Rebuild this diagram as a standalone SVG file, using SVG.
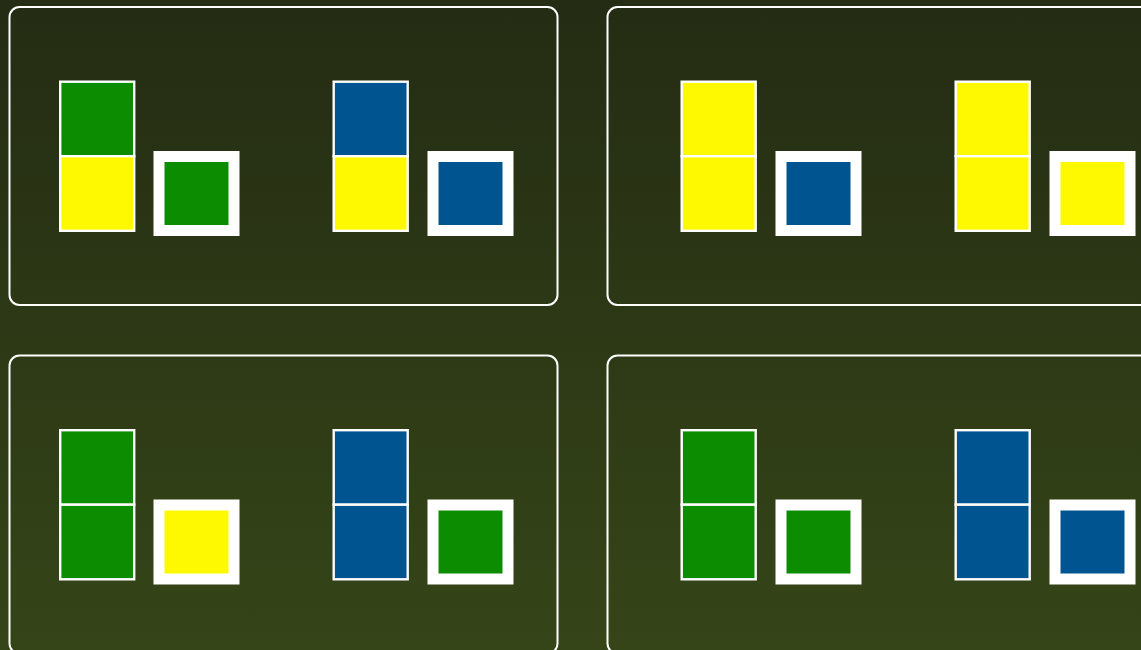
<svg xmlns="http://www.w3.org/2000/svg" width="1141" height="650" viewBox="0 0 1141 650">
  <defs>
    <linearGradient id="bg" x1="0" y1="0" x2="0" y2="1">
      <stop offset="0" stop-color="#242c13"/>
      <stop offset="1" stop-color="#354518"/>
    </linearGradient>
  </defs>
  <style>
    .panel { fill: none; stroke: #ffffff; stroke-width: 2; }
    .cell { stroke: #ffffff; stroke-width: 2.4; }
    .sq { stroke: #ffffff; stroke-width: 11; }
    .g { fill: #0c8c00; }
    .y { fill: #fff900; }
    .b { fill: #005591; }
  </style>
  <rect x="0" y="0" width="1141" height="650" fill="url(#bg)"/>

  <g id="panel-1">
    <rect class="panel" x="9.5" y="7" width="548" height="298" rx="10"/>
    <g id="p1-stack-a">
      <rect class="cell g" x="60.2" y="81.7" width="74" height="74.5"/>
      <rect class="cell y" x="60.2" y="156.2" width="74" height="74.6"/>
    </g>
    <rect id="p1-square-a" class="sq g" x="159" y="156.5" width="75" height="74"/>
    <g id="p1-stack-b">
      <rect class="cell b" x="333.7" y="81.7" width="74" height="74.5"/>
      <rect class="cell y" x="333.7" y="156.2" width="74" height="74.6"/>
    </g>
    <rect id="p1-square-b" class="sq b" x="433" y="156.5" width="75" height="74"/>
  </g>

  <g id="panel-2">
    <rect class="panel" x="607.5" y="7" width="548" height="298" rx="10"/>
    <g id="p2-stack-a">
      <rect class="cell y" x="681.7" y="81.7" width="74" height="74.5"/>
      <rect class="cell y" x="681.7" y="156.2" width="74" height="74.6"/>
    </g>
    <rect id="p2-square-a" class="sq b" x="781" y="156.5" width="75" height="74"/>
    <g id="p2-stack-b">
      <rect class="cell y" x="955.7" y="81.7" width="74" height="74.5"/>
      <rect class="cell y" x="955.7" y="156.2" width="74" height="74.6"/>
    </g>
    <rect id="p2-square-b" class="sq y" x="1055" y="156.5" width="75" height="74"/>
  </g>

  <g id="panel-3">
    <rect class="panel" x="9.5" y="355.5" width="548" height="298" rx="10"/>
    <g id="p3-stack-a">
      <rect class="cell g" x="60.2" y="430.2" width="74" height="74.5"/>
      <rect class="cell g" x="60.2" y="504.7" width="74" height="74.6"/>
    </g>
    <rect id="p3-square-a" class="sq y" x="159" y="505" width="75" height="74"/>
    <g id="p3-stack-b">
      <rect class="cell b" x="333.7" y="430.2" width="74" height="74.5"/>
      <rect class="cell b" x="333.7" y="504.7" width="74" height="74.6"/>
    </g>
    <rect id="p3-square-b" class="sq g" x="433" y="505" width="75" height="74"/>
  </g>

  <g id="panel-4">
    <rect class="panel" x="607.5" y="355.5" width="548" height="298" rx="10"/>
    <g id="p4-stack-a">
      <rect class="cell g" x="681.7" y="430.2" width="74" height="74.5"/>
      <rect class="cell g" x="681.7" y="504.7" width="74" height="74.6"/>
    </g>
    <rect id="p4-square-a" class="sq g" x="781" y="505" width="75" height="74"/>
    <g id="p4-stack-b">
      <rect class="cell b" x="955.7" y="430.2" width="74" height="74.5"/>
      <rect class="cell b" x="955.7" y="504.7" width="74" height="74.6"/>
    </g>
    <rect id="p4-square-b" class="sq b" x="1055" y="505" width="75" height="74"/>
  </g>
</svg>
